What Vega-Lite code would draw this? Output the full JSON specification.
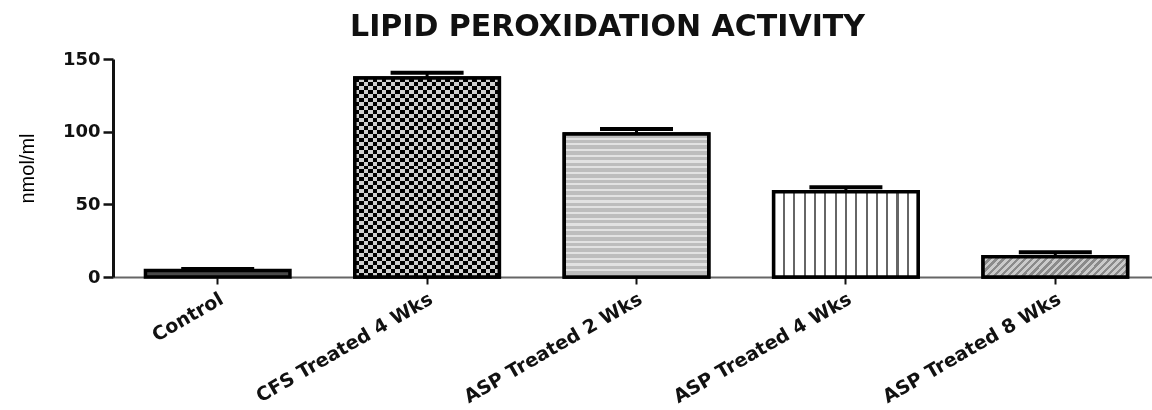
{
  "$schema": "https://vega.github.io/schema/vega-lite/v6.json",
  "autosize": "none",
  "width": 1039,
  "height": 218,
  "padding": {"left": 113, "top": 59, "right": 0, "bottom": 133},
  "background": "white",
  "title": {
    "text": "LIPID PEROXIDATION ACTIVITY",
    "anchor": "middle",
    "font": "DejaVu Sans",
    "fontSize": 30,
    "fontWeight": "bold",
    "color": "#111",
    "offset": 8,
    "dx": -25
  },
  "config": {
    "view": {"stroke": null},
    "axis": {"grid": false}
  },
  "data": {
    "values": [
      {"group": "Control", "mean": 4.5, "upper": 5.5},
      {"group": "CFS Treated 4 Wks", "mean": 137, "upper": 140.6},
      {"group": "ASP Treated 2 Wks", "mean": 98.4, "upper": 101.8},
      {"group": "ASP Treated 4 Wks", "mean": 58.7, "upper": 61.7},
      {"group": "ASP Treated 8 Wks", "mean": 14, "upper": 17}
    ]
  },
  "encoding": {
    "x": {
      "field": "group",
      "type": "nominal",
      "sort": null,
      "scale": {"paddingInner": 0.31, "paddingOuter": 0.155, "range": [0, 1047]},
      "axis": {
        "title": null,
        "labelAngle": -30,
        "labelAlign": "right",
        "labelBaseline": "middle",
        "labelFont": "DejaVu Sans",
        "labelFontWeight": "bold",
        "labelFontSize": 19,
        "labelColor": "#111",
        "labelLimit": 0,
        "labelPadding": 13,
        "labelOffset": 4,
        "tickSize": 7,
        "tickWidth": 2,
        "tickColor": "#111",
        "domainColor": "#666",
        "domainWidth": 2
      }
    }
  },
  "layer": [
    {
      "mark": {"type": "bar", "stroke": "#000", "strokeWidth": 3.5},
      "encoding": {
        "y": {
          "field": "mean",
          "type": "quantitative",
          "scale": {"domain": [0, 150], "nice": false},
          "axis": {
            "values": [0, 50, 100, 150],
            "title": "nmol/ml",
            "titleFont": "Liberation Sans",
            "titleFontWeight": "normal",
            "titleFontSize": 20,
            "titleColor": "#000",
            "titlePadding": 25,
            "labelFont": "DejaVu Sans",
            "labelFontWeight": "bold",
            "labelFontSize": 18,
            "labelColor": "#111",
            "labelPadding": 3,
            "tickSize": 10,
            "tickWidth": 2.5,
            "tickColor": "#111",
            "domainColor": "#111",
            "domainWidth": 3
          }
        },
        "fill": {
          "field": "group",
          "type": "nominal",
          "scale": {
            "domain": ["Control", "CFS Treated 4 Wks", "ASP Treated 2 Wks", "ASP Treated 4 Wks", "ASP Treated 8 Wks"],
            "range": ["#4a4a4a", "#6e6e6e", "#c6c6c6", "#ffffff", "#a5a5a5"]
          },
          "legend": null
        }
      }
    },
    {
      "transform": [{"filter": "datum.group === 'CFS Treated 4 Wks'"}],
      "mark": {
        "type": "bar",
        "strokeWidth": 0,
        "fill": {
          "gradient": "linear",
          "x1": 0, "y1": 0, "x2": 0, "y2": 1,
          "stops": [
            {"offset": 0, "color": "#000"}, {"offset": 0.02, "color": "#000"}, {"offset": 0.02, "color": "#cfcfcf"}, {"offset": 0.04, "color": "#cfcfcf"},
            {"offset": 0.04, "color": "#000"}, {"offset": 0.06, "color": "#000"}, {"offset": 0.06, "color": "#cfcfcf"}, {"offset": 0.08, "color": "#cfcfcf"},
            {"offset": 0.08, "color": "#000"}, {"offset": 0.10, "color": "#000"}, {"offset": 0.10, "color": "#cfcfcf"}, {"offset": 0.12, "color": "#cfcfcf"},
            {"offset": 0.12, "color": "#000"}, {"offset": 0.14, "color": "#000"}, {"offset": 0.14, "color": "#cfcfcf"}, {"offset": 0.16, "color": "#cfcfcf"},
            {"offset": 0.16, "color": "#000"}, {"offset": 0.18, "color": "#000"}, {"offset": 0.18, "color": "#cfcfcf"}, {"offset": 0.20, "color": "#cfcfcf"},
            {"offset": 0.20, "color": "#000"}, {"offset": 0.22, "color": "#000"}, {"offset": 0.22, "color": "#cfcfcf"}, {"offset": 0.24, "color": "#cfcfcf"},
            {"offset": 0.24, "color": "#000"}, {"offset": 0.26, "color": "#000"}, {"offset": 0.26, "color": "#cfcfcf"}, {"offset": 0.28, "color": "#cfcfcf"},
            {"offset": 0.28, "color": "#000"}, {"offset": 0.30, "color": "#000"}, {"offset": 0.30, "color": "#cfcfcf"}, {"offset": 0.32, "color": "#cfcfcf"},
            {"offset": 0.32, "color": "#000"}, {"offset": 0.34, "color": "#000"}, {"offset": 0.34, "color": "#cfcfcf"}, {"offset": 0.36, "color": "#cfcfcf"},
            {"offset": 0.36, "color": "#000"}, {"offset": 0.38, "color": "#000"}, {"offset": 0.38, "color": "#cfcfcf"}, {"offset": 0.40, "color": "#cfcfcf"},
            {"offset": 0.40, "color": "#000"}, {"offset": 0.42, "color": "#000"}, {"offset": 0.42, "color": "#cfcfcf"}, {"offset": 0.44, "color": "#cfcfcf"},
            {"offset": 0.44, "color": "#000"}, {"offset": 0.46, "color": "#000"}, {"offset": 0.46, "color": "#cfcfcf"}, {"offset": 0.48, "color": "#cfcfcf"},
            {"offset": 0.48, "color": "#000"}, {"offset": 0.50, "color": "#000"}, {"offset": 0.50, "color": "#cfcfcf"}, {"offset": 0.52, "color": "#cfcfcf"},
            {"offset": 0.52, "color": "#000"}, {"offset": 0.54, "color": "#000"}, {"offset": 0.54, "color": "#cfcfcf"}, {"offset": 0.56, "color": "#cfcfcf"},
            {"offset": 0.56, "color": "#000"}, {"offset": 0.58, "color": "#000"}, {"offset": 0.58, "color": "#cfcfcf"}, {"offset": 0.60, "color": "#cfcfcf"},
            {"offset": 0.60, "color": "#000"}, {"offset": 0.62, "color": "#000"}, {"offset": 0.62, "color": "#cfcfcf"}, {"offset": 0.64, "color": "#cfcfcf"},
            {"offset": 0.64, "color": "#000"}, {"offset": 0.66, "color": "#000"}, {"offset": 0.66, "color": "#cfcfcf"}, {"offset": 0.68, "color": "#cfcfcf"},
            {"offset": 0.68, "color": "#000"}, {"offset": 0.70, "color": "#000"}, {"offset": 0.70, "color": "#cfcfcf"}, {"offset": 0.72, "color": "#cfcfcf"},
            {"offset": 0.72, "color": "#000"}, {"offset": 0.74, "color": "#000"}, {"offset": 0.74, "color": "#cfcfcf"}, {"offset": 0.76, "color": "#cfcfcf"},
            {"offset": 0.76, "color": "#000"}, {"offset": 0.78, "color": "#000"}, {"offset": 0.78, "color": "#cfcfcf"}, {"offset": 0.80, "color": "#cfcfcf"},
            {"offset": 0.80, "color": "#000"}, {"offset": 0.82, "color": "#000"}, {"offset": 0.82, "color": "#cfcfcf"}, {"offset": 0.84, "color": "#cfcfcf"},
            {"offset": 0.84, "color": "#000"}, {"offset": 0.86, "color": "#000"}, {"offset": 0.86, "color": "#cfcfcf"}, {"offset": 0.88, "color": "#cfcfcf"},
            {"offset": 0.88, "color": "#000"}, {"offset": 0.90, "color": "#000"}, {"offset": 0.90, "color": "#cfcfcf"}, {"offset": 0.92, "color": "#cfcfcf"},
            {"offset": 0.92, "color": "#000"}, {"offset": 0.94, "color": "#000"}, {"offset": 0.94, "color": "#cfcfcf"}, {"offset": 0.96, "color": "#cfcfcf"},
            {"offset": 0.96, "color": "#000"}, {"offset": 0.98, "color": "#000"}, {"offset": 0.98, "color": "#cfcfcf"}, {"offset": 1, "color": "#cfcfcf"}
          ]
        }
      },
      "encoding": {
        "y": {"field": "mean", "type": "quantitative"}
      }
    },
    {
      "transform": [{"filter": "datum.group === 'CFS Treated 4 Wks'"}],
      "mark": {
        "type": "bar",
        "strokeWidth": 0,
        "blend": "difference",
        "fill": {
          "gradient": "linear",
          "x1": 0, "y1": 0, "x2": 1, "y2": 0,
          "stops": [
            {"offset": 0, "color": "#000"}, {"offset": 0.03125, "color": "#000"}, {"offset": 0.03125, "color": "#cfcfcf"}, {"offset": 0.0625, "color": "#cfcfcf"},
            {"offset": 0.0625, "color": "#000"}, {"offset": 0.09375, "color": "#000"}, {"offset": 0.09375, "color": "#cfcfcf"}, {"offset": 0.125, "color": "#cfcfcf"},
            {"offset": 0.125, "color": "#000"}, {"offset": 0.15625, "color": "#000"}, {"offset": 0.15625, "color": "#cfcfcf"}, {"offset": 0.1875, "color": "#cfcfcf"},
            {"offset": 0.1875, "color": "#000"}, {"offset": 0.21875, "color": "#000"}, {"offset": 0.21875, "color": "#cfcfcf"}, {"offset": 0.25, "color": "#cfcfcf"},
            {"offset": 0.25, "color": "#000"}, {"offset": 0.28125, "color": "#000"}, {"offset": 0.28125, "color": "#cfcfcf"}, {"offset": 0.3125, "color": "#cfcfcf"},
            {"offset": 0.3125, "color": "#000"}, {"offset": 0.34375, "color": "#000"}, {"offset": 0.34375, "color": "#cfcfcf"}, {"offset": 0.375, "color": "#cfcfcf"},
            {"offset": 0.375, "color": "#000"}, {"offset": 0.40625, "color": "#000"}, {"offset": 0.40625, "color": "#cfcfcf"}, {"offset": 0.4375, "color": "#cfcfcf"},
            {"offset": 0.4375, "color": "#000"}, {"offset": 0.46875, "color": "#000"}, {"offset": 0.46875, "color": "#cfcfcf"}, {"offset": 0.5, "color": "#cfcfcf"},
            {"offset": 0.5, "color": "#000"}, {"offset": 0.53125, "color": "#000"}, {"offset": 0.53125, "color": "#cfcfcf"}, {"offset": 0.5625, "color": "#cfcfcf"},
            {"offset": 0.5625, "color": "#000"}, {"offset": 0.59375, "color": "#000"}, {"offset": 0.59375, "color": "#cfcfcf"}, {"offset": 0.625, "color": "#cfcfcf"},
            {"offset": 0.625, "color": "#000"}, {"offset": 0.65625, "color": "#000"}, {"offset": 0.65625, "color": "#cfcfcf"}, {"offset": 0.6875, "color": "#cfcfcf"},
            {"offset": 0.6875, "color": "#000"}, {"offset": 0.71875, "color": "#000"}, {"offset": 0.71875, "color": "#cfcfcf"}, {"offset": 0.75, "color": "#cfcfcf"},
            {"offset": 0.75, "color": "#000"}, {"offset": 0.78125, "color": "#000"}, {"offset": 0.78125, "color": "#cfcfcf"}, {"offset": 0.8125, "color": "#cfcfcf"},
            {"offset": 0.8125, "color": "#000"}, {"offset": 0.84375, "color": "#000"}, {"offset": 0.84375, "color": "#cfcfcf"}, {"offset": 0.875, "color": "#cfcfcf"},
            {"offset": 0.875, "color": "#000"}, {"offset": 0.90625, "color": "#000"}, {"offset": 0.90625, "color": "#cfcfcf"}, {"offset": 0.9375, "color": "#cfcfcf"},
            {"offset": 0.9375, "color": "#000"}, {"offset": 0.96875, "color": "#000"}, {"offset": 0.96875, "color": "#cfcfcf"}, {"offset": 1, "color": "#cfcfcf"}
          ]
        }
      },
      "encoding": {
        "y": {"field": "mean", "type": "quantitative"}
      }
    },
    {
      "transform": [{"filter": "datum.group === 'CFS Treated 4 Wks'"}],
      "mark": {"type": "bar", "fill": null, "fillOpacity": 0, "stroke": "#000", "strokeWidth": 3.5},
      "encoding": {
        "y": {"field": "mean", "type": "quantitative"}
      }
    },
    {
      "transform": [{"filter": "datum.group === 'ASP Treated 2 Wks'"}],
      "mark": {
        "type": "bar",
        "stroke": "#000",
        "strokeWidth": 3.5,
        "fill": {
          "gradient": "linear",
          "x1": 0, "y1": 0, "x2": 0, "y2": 1,
          "stops": [
            {"offset": 0, "color": "#bdbdbd"}, {"offset": 0.025, "color": "#bdbdbd"}, {"offset": 0.025, "color": "#e2e2e2"}, {"offset": 0.04, "color": "#e2e2e2"},
            {"offset": 0.04, "color": "#bdbdbd"}, {"offset": 0.065, "color": "#bdbdbd"}, {"offset": 0.065, "color": "#e2e2e2"}, {"offset": 0.08, "color": "#e2e2e2"},
            {"offset": 0.08, "color": "#bdbdbd"}, {"offset": 0.105, "color": "#bdbdbd"}, {"offset": 0.105, "color": "#e2e2e2"}, {"offset": 0.12, "color": "#e2e2e2"},
            {"offset": 0.12, "color": "#bdbdbd"}, {"offset": 0.145, "color": "#bdbdbd"}, {"offset": 0.145, "color": "#e2e2e2"}, {"offset": 0.16, "color": "#e2e2e2"},
            {"offset": 0.16, "color": "#bdbdbd"}, {"offset": 0.185, "color": "#bdbdbd"}, {"offset": 0.185, "color": "#e2e2e2"}, {"offset": 0.20, "color": "#e2e2e2"},
            {"offset": 0.20, "color": "#bdbdbd"}, {"offset": 0.225, "color": "#bdbdbd"}, {"offset": 0.225, "color": "#e2e2e2"}, {"offset": 0.24, "color": "#e2e2e2"},
            {"offset": 0.24, "color": "#bdbdbd"}, {"offset": 0.265, "color": "#bdbdbd"}, {"offset": 0.265, "color": "#e2e2e2"}, {"offset": 0.28, "color": "#e2e2e2"},
            {"offset": 0.28, "color": "#bdbdbd"}, {"offset": 0.305, "color": "#bdbdbd"}, {"offset": 0.305, "color": "#e2e2e2"}, {"offset": 0.32, "color": "#e2e2e2"},
            {"offset": 0.32, "color": "#bdbdbd"}, {"offset": 0.345, "color": "#bdbdbd"}, {"offset": 0.345, "color": "#e2e2e2"}, {"offset": 0.36, "color": "#e2e2e2"},
            {"offset": 0.36, "color": "#bdbdbd"}, {"offset": 0.385, "color": "#bdbdbd"}, {"offset": 0.385, "color": "#e2e2e2"}, {"offset": 0.40, "color": "#e2e2e2"},
            {"offset": 0.40, "color": "#bdbdbd"}, {"offset": 0.425, "color": "#bdbdbd"}, {"offset": 0.425, "color": "#e2e2e2"}, {"offset": 0.44, "color": "#e2e2e2"},
            {"offset": 0.44, "color": "#bdbdbd"}, {"offset": 0.465, "color": "#bdbdbd"}, {"offset": 0.465, "color": "#e2e2e2"}, {"offset": 0.48, "color": "#e2e2e2"},
            {"offset": 0.48, "color": "#bdbdbd"}, {"offset": 0.505, "color": "#bdbdbd"}, {"offset": 0.505, "color": "#e2e2e2"}, {"offset": 0.52, "color": "#e2e2e2"},
            {"offset": 0.52, "color": "#bdbdbd"}, {"offset": 0.545, "color": "#bdbdbd"}, {"offset": 0.545, "color": "#e2e2e2"}, {"offset": 0.56, "color": "#e2e2e2"},
            {"offset": 0.56, "color": "#bdbdbd"}, {"offset": 0.585, "color": "#bdbdbd"}, {"offset": 0.585, "color": "#e2e2e2"}, {"offset": 0.60, "color": "#e2e2e2"},
            {"offset": 0.60, "color": "#bdbdbd"}, {"offset": 0.625, "color": "#bdbdbd"}, {"offset": 0.625, "color": "#e2e2e2"}, {"offset": 0.64, "color": "#e2e2e2"},
            {"offset": 0.64, "color": "#bdbdbd"}, {"offset": 0.665, "color": "#bdbdbd"}, {"offset": 0.665, "color": "#e2e2e2"}, {"offset": 0.68, "color": "#e2e2e2"},
            {"offset": 0.68, "color": "#bdbdbd"}, {"offset": 0.705, "color": "#bdbdbd"}, {"offset": 0.705, "color": "#e2e2e2"}, {"offset": 0.72, "color": "#e2e2e2"},
            {"offset": 0.72, "color": "#bdbdbd"}, {"offset": 0.745, "color": "#bdbdbd"}, {"offset": 0.745, "color": "#e2e2e2"}, {"offset": 0.76, "color": "#e2e2e2"},
            {"offset": 0.76, "color": "#bdbdbd"}, {"offset": 0.785, "color": "#bdbdbd"}, {"offset": 0.785, "color": "#e2e2e2"}, {"offset": 0.80, "color": "#e2e2e2"},
            {"offset": 0.80, "color": "#bdbdbd"}, {"offset": 0.825, "color": "#bdbdbd"}, {"offset": 0.825, "color": "#e2e2e2"}, {"offset": 0.84, "color": "#e2e2e2"},
            {"offset": 0.84, "color": "#bdbdbd"}, {"offset": 0.865, "color": "#bdbdbd"}, {"offset": 0.865, "color": "#e2e2e2"}, {"offset": 0.88, "color": "#e2e2e2"},
            {"offset": 0.88, "color": "#bdbdbd"}, {"offset": 0.905, "color": "#bdbdbd"}, {"offset": 0.905, "color": "#e2e2e2"}, {"offset": 0.92, "color": "#e2e2e2"},
            {"offset": 0.92, "color": "#bdbdbd"}, {"offset": 0.945, "color": "#bdbdbd"}, {"offset": 0.945, "color": "#e2e2e2"}, {"offset": 0.96, "color": "#e2e2e2"},
            {"offset": 0.96, "color": "#bdbdbd"}, {"offset": 0.985, "color": "#bdbdbd"}, {"offset": 0.985, "color": "#e2e2e2"}, {"offset": 1, "color": "#e2e2e2"}
          ]
        }
      },
      "encoding": {
        "y": {"field": "mean", "type": "quantitative"}
      }
    },
    {
      "transform": [{"filter": "datum.group === 'ASP Treated 4 Wks'"}],
      "mark": {
        "type": "bar",
        "stroke": "#000",
        "strokeWidth": 3.5,
        "fill": {
          "gradient": "linear",
          "x1": 0, "y1": 0, "x2": 1, "y2": 0,
          "stops": [
            {"offset": 0, "color": "#fff"},
            {"offset": 0.0644, "color": "#fff"}, {"offset": 0.0644, "color": "#666"}, {"offset": 0.0784, "color": "#666"}, {"offset": 0.0784, "color": "#fff"},
            {"offset": 0.1359, "color": "#fff"}, {"offset": 0.1359, "color": "#666"}, {"offset": 0.1499, "color": "#666"}, {"offset": 0.1499, "color": "#fff"},
            {"offset": 0.2073, "color": "#fff"}, {"offset": 0.2073, "color": "#666"}, {"offset": 0.2213, "color": "#666"}, {"offset": 0.2213, "color": "#fff"},
            {"offset": 0.2787, "color": "#fff"}, {"offset": 0.2787, "color": "#666"}, {"offset": 0.2927, "color": "#666"}, {"offset": 0.2927, "color": "#fff"},
            {"offset": 0.3501, "color": "#fff"}, {"offset": 0.3501, "color": "#666"}, {"offset": 0.3641, "color": "#666"}, {"offset": 0.3641, "color": "#fff"},
            {"offset": 0.4216, "color": "#fff"}, {"offset": 0.4216, "color": "#666"}, {"offset": 0.4356, "color": "#666"}, {"offset": 0.4356, "color": "#fff"},
            {"offset": 0.493, "color": "#fff"}, {"offset": 0.493, "color": "#666"}, {"offset": 0.507, "color": "#666"}, {"offset": 0.507, "color": "#fff"},
            {"offset": 0.5644, "color": "#fff"}, {"offset": 0.5644, "color": "#666"}, {"offset": 0.5784, "color": "#666"}, {"offset": 0.5784, "color": "#fff"},
            {"offset": 0.6359, "color": "#fff"}, {"offset": 0.6359, "color": "#666"}, {"offset": 0.6499, "color": "#666"}, {"offset": 0.6499, "color": "#fff"},
            {"offset": 0.7073, "color": "#fff"}, {"offset": 0.7073, "color": "#666"}, {"offset": 0.7213, "color": "#666"}, {"offset": 0.7213, "color": "#fff"},
            {"offset": 0.7787, "color": "#fff"}, {"offset": 0.7787, "color": "#666"}, {"offset": 0.7927, "color": "#666"}, {"offset": 0.7927, "color": "#fff"},
            {"offset": 0.8501, "color": "#fff"}, {"offset": 0.8501, "color": "#666"}, {"offset": 0.8641, "color": "#666"}, {"offset": 0.8641, "color": "#fff"},
            {"offset": 0.9216, "color": "#fff"}, {"offset": 0.9216, "color": "#666"}, {"offset": 0.9356, "color": "#666"}, {"offset": 0.9356, "color": "#fff"},
            {"offset": 1, "color": "#fff"}
          ]
        }
      },
      "encoding": {
        "y": {"field": "mean", "type": "quantitative"}
      }
    },
    {
      "transform": [{"filter": "datum.group === 'ASP Treated 8 Wks'"}],
      "mark": {
        "type": "bar",
        "stroke": "#000",
        "strokeWidth": 3.5,
        "fill": {
          "gradient": "linear",
          "x1": 0, "y1": 0, "x2": 1.2, "y2": 0.167,
          "stops": [
            {"offset": 0, "color": "#8a8a8a"}, {"offset": 0.02, "color": "#8a8a8a"}, {"offset": 0.02, "color": "#cacaca"}, {"offset": 0.04, "color": "#cacaca"},
            {"offset": 0.04, "color": "#8a8a8a"}, {"offset": 0.06, "color": "#8a8a8a"}, {"offset": 0.06, "color": "#cacaca"}, {"offset": 0.08, "color": "#cacaca"},
            {"offset": 0.08, "color": "#8a8a8a"}, {"offset": 0.10, "color": "#8a8a8a"}, {"offset": 0.10, "color": "#cacaca"}, {"offset": 0.12, "color": "#cacaca"},
            {"offset": 0.12, "color": "#8a8a8a"}, {"offset": 0.14, "color": "#8a8a8a"}, {"offset": 0.14, "color": "#cacaca"}, {"offset": 0.16, "color": "#cacaca"},
            {"offset": 0.16, "color": "#8a8a8a"}, {"offset": 0.18, "color": "#8a8a8a"}, {"offset": 0.18, "color": "#cacaca"}, {"offset": 0.20, "color": "#cacaca"},
            {"offset": 0.20, "color": "#8a8a8a"}, {"offset": 0.22, "color": "#8a8a8a"}, {"offset": 0.22, "color": "#cacaca"}, {"offset": 0.24, "color": "#cacaca"},
            {"offset": 0.24, "color": "#8a8a8a"}, {"offset": 0.26, "color": "#8a8a8a"}, {"offset": 0.26, "color": "#cacaca"}, {"offset": 0.28, "color": "#cacaca"},
            {"offset": 0.28, "color": "#8a8a8a"}, {"offset": 0.30, "color": "#8a8a8a"}, {"offset": 0.30, "color": "#cacaca"}, {"offset": 0.32, "color": "#cacaca"},
            {"offset": 0.32, "color": "#8a8a8a"}, {"offset": 0.34, "color": "#8a8a8a"}, {"offset": 0.34, "color": "#cacaca"}, {"offset": 0.36, "color": "#cacaca"},
            {"offset": 0.36, "color": "#8a8a8a"}, {"offset": 0.38, "color": "#8a8a8a"}, {"offset": 0.38, "color": "#cacaca"}, {"offset": 0.40, "color": "#cacaca"},
            {"offset": 0.40, "color": "#8a8a8a"}, {"offset": 0.42, "color": "#8a8a8a"}, {"offset": 0.42, "color": "#cacaca"}, {"offset": 0.44, "color": "#cacaca"},
            {"offset": 0.44, "color": "#8a8a8a"}, {"offset": 0.46, "color": "#8a8a8a"}, {"offset": 0.46, "color": "#cacaca"}, {"offset": 0.48, "color": "#cacaca"},
            {"offset": 0.48, "color": "#8a8a8a"}, {"offset": 0.50, "color": "#8a8a8a"}, {"offset": 0.50, "color": "#cacaca"}, {"offset": 0.52, "color": "#cacaca"},
            {"offset": 0.52, "color": "#8a8a8a"}, {"offset": 0.54, "color": "#8a8a8a"}, {"offset": 0.54, "color": "#cacaca"}, {"offset": 0.56, "color": "#cacaca"},
            {"offset": 0.56, "color": "#8a8a8a"}, {"offset": 0.58, "color": "#8a8a8a"}, {"offset": 0.58, "color": "#cacaca"}, {"offset": 0.60, "color": "#cacaca"},
            {"offset": 0.60, "color": "#8a8a8a"}, {"offset": 0.62, "color": "#8a8a8a"}, {"offset": 0.62, "color": "#cacaca"}, {"offset": 0.64, "color": "#cacaca"},
            {"offset": 0.64, "color": "#8a8a8a"}, {"offset": 0.66, "color": "#8a8a8a"}, {"offset": 0.66, "color": "#cacaca"}, {"offset": 0.68, "color": "#cacaca"},
            {"offset": 0.68, "color": "#8a8a8a"}, {"offset": 0.70, "color": "#8a8a8a"}, {"offset": 0.70, "color": "#cacaca"}, {"offset": 0.72, "color": "#cacaca"},
            {"offset": 0.72, "color": "#8a8a8a"}, {"offset": 0.74, "color": "#8a8a8a"}, {"offset": 0.74, "color": "#cacaca"}, {"offset": 0.76, "color": "#cacaca"},
            {"offset": 0.76, "color": "#8a8a8a"}, {"offset": 0.78, "color": "#8a8a8a"}, {"offset": 0.78, "color": "#cacaca"}, {"offset": 0.80, "color": "#cacaca"},
            {"offset": 0.80, "color": "#8a8a8a"}, {"offset": 0.82, "color": "#8a8a8a"}, {"offset": 0.82, "color": "#cacaca"}, {"offset": 0.84, "color": "#cacaca"},
            {"offset": 0.84, "color": "#8a8a8a"}, {"offset": 0.86, "color": "#8a8a8a"}, {"offset": 0.86, "color": "#cacaca"}, {"offset": 0.88, "color": "#cacaca"},
            {"offset": 0.88, "color": "#8a8a8a"}, {"offset": 0.90, "color": "#8a8a8a"}, {"offset": 0.90, "color": "#cacaca"}, {"offset": 0.92, "color": "#cacaca"},
            {"offset": 0.92, "color": "#8a8a8a"}, {"offset": 0.94, "color": "#8a8a8a"}, {"offset": 0.94, "color": "#cacaca"}, {"offset": 0.96, "color": "#cacaca"},
            {"offset": 0.96, "color": "#8a8a8a"}, {"offset": 0.98, "color": "#8a8a8a"}, {"offset": 0.98, "color": "#cacaca"}, {"offset": 1, "color": "#cacaca"}
          ]
        }
      },
      "encoding": {
        "y": {"field": "mean", "type": "quantitative"}
      }
    },
    {
      "mark": {"type": "rule", "color": "#000", "strokeWidth": 3},
      "encoding": {
        "y": {"field": "mean", "type": "quantitative"},
        "y2": {"field": "upper"}
      }
    },
    {
      "mark": {"type": "tick", "color": "#000", "opacity": 1, "thickness": 4, "size": 73},
      "encoding": {
        "y": {"field": "upper", "type": "quantitative"}
      }
    }
  ]
}
